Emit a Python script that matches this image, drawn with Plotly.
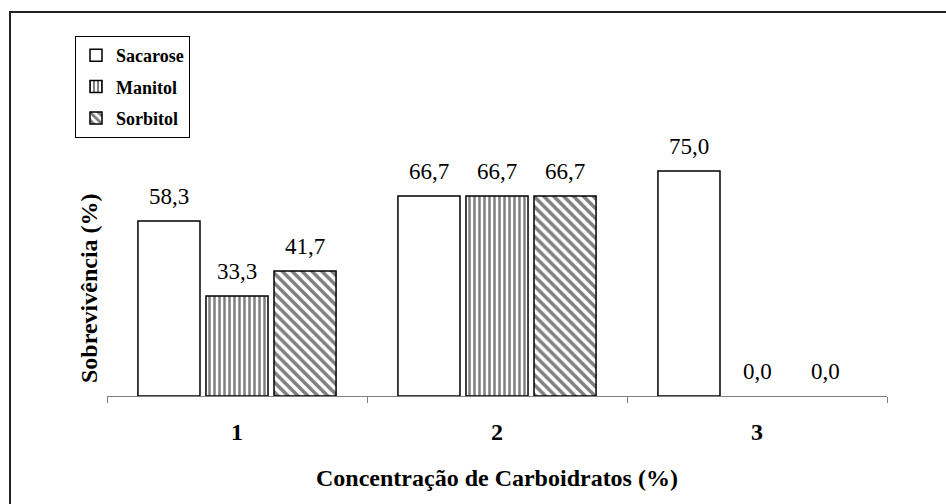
import plotly.graph_objects as go

# ---- data ----
categories = ["1", "2", "3"]
series_names = ["Sacarose", "Manitol", "Sorbitol"]
sacarose = [58.3, 66.7, 75.0]
manitol = [33.3, 66.7, 0.0]
sorbitol = [41.7, 66.7, 0.0]
x_title = "Concentração de Carboidratos (%)"
y_title = "Sobrevivência (%)"

FONT = "Liberation Serif, 'Times New Roman', Times, 'DejaVu Serif', serif"
W, H = 946, 504
ML, MR, MT, MB = 107, 59, 96, 108
PW, PH = W - ML - MR, H - MT - MB
YMAX = 100
BARGAP = 0.215
BARGROUPGAP = 0.088

def px_to_paper_x(px):
    return (px - ML) / PW

def px_to_paper_y(py):
    return (H - MB - py) / PH

styles = [
    dict(shape="", size=6, sol=0.3),
    dict(shape="|", size=5, sol=0.5),
    dict(shape="\\", size=7, sol=0.5),
]
values = [sacarose, manitol, sorbitol]

fig = go.Figure()
for name, vals, st in zip(series_names, values, styles):
    fig.add_trace(go.Bar(
        name=name, x=categories, y=vals, legendgroup=name,
        marker=dict(color="white",
                    line=dict(color="black", width=[1.5 if v > 0 else 0 for v in vals]),
                    pattern=dict(shape=st["shape"], fgcolor="black", bgcolor="white",
                                 size=st["size"], solidity=st["sol"], fillmode="overlay")),
        hoverinfo="skip",
    ))

slot = (1 - BARGAP) / len(series_names)
annotations = []
for j, vals in enumerate(values):
    for i, v in enumerate(vals):
        annotations.append(dict(
            x=i + (j - (len(series_names) - 1) / 2) * slot, y=v, xref="x", yref="y",
            text=f"{v:.1f}".replace(".", ","), showarrow=False,
            xanchor="center", yanchor="bottom", yshift=10,
            font=dict(family=FONT, size=23, color="black"),
        ))

annotations.append(dict(
    x=0.5, y=px_to_paper_y(478), xref="paper", yref="paper", text=x_title,
    showarrow=False, xanchor="center", yanchor="middle",
    font=dict(family=FONT, size=24, color="black", weight="bold"),
))
annotations.append(dict(
    x=px_to_paper_x(89), y=px_to_paper_y(288), xref="paper", yref="paper", text=y_title,
    showarrow=False, xanchor="center", yanchor="middle", textangle=-90,
    font=dict(family=FONT, size=24, color="black", weight="bold"),
))

shapes = [dict(
    type="rect", xref="paper", yref="paper",
    x0=px_to_paper_x(10), x1=px_to_paper_x(960),
    y0=px_to_paper_y(520), y1=px_to_paper_y(12),
    line=dict(color="#222222", width=2), fillcolor="rgba(0,0,0,0)", layer="below",
)]

fig.update_layout(
    width=W, height=H,
    margin=dict(l=ML, r=MR, t=MT, b=MB, autoexpand=False),
    paper_bgcolor="white", plot_bgcolor="white",
    barmode="group", bargap=BARGAP, bargroupgap=BARGROUPGAP,
    separators=",.",
    showlegend=True,
    legend=dict(
        x=px_to_paper_x(75), y=px_to_paper_y(36), xanchor="left", yanchor="top",
        xref="paper", yref="paper",
        bgcolor="white", bordercolor="black", borderwidth=1,
        font=dict(family=FONT, size=18, color="black", weight="bold"),
        traceorder="grouped", tracegroupgap=5,
    ),
    xaxis=dict(
        type="category", showline=True, linecolor="#808080", linewidth=1,
        ticks="outside", tickson="boundaries", ticklen=6, tickcolor="#808080", tickwidth=1,
        ticklabelstandoff=14,
        tickfont=dict(family=FONT, size=24, color="black", weight="bold"),
        showgrid=False, zeroline=False,
    ),
    yaxis=dict(range=[0, YMAX], visible=False, showgrid=False, zeroline=False),
    annotations=annotations,
    shapes=shapes,
)

fig.write_html("out.html")
